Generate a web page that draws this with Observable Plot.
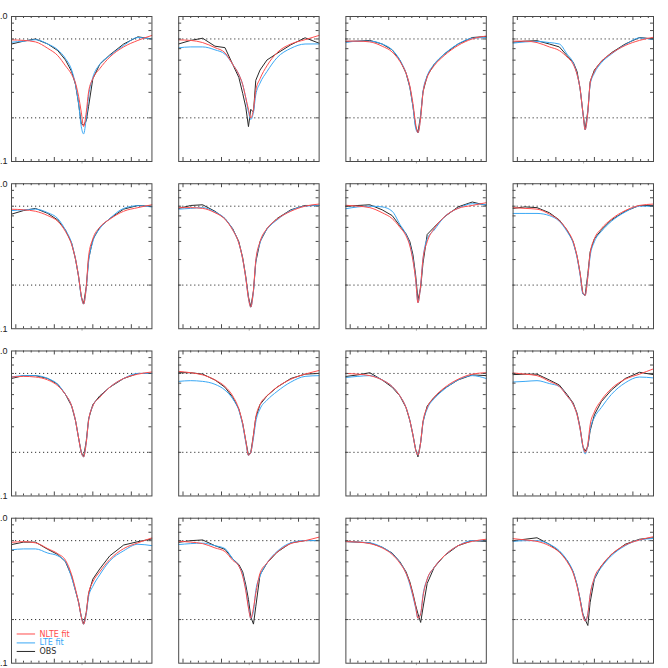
<!DOCTYPE html>
<html><head><meta charset="utf-8">
<script src="https://cdn.jsdelivr.net/npm/d3@7"></script>
<script src="https://cdn.jsdelivr.net/npm/@observablehq/plot@0.6"></script>
<style>html,body{margin:0;padding:0;background:#fff;overflow:hidden}</style>
</head><body><div id="chart"></div>
<script>
// wavelength grid (arbitrary units; major ticks at 0,1,2,3)
const xGrid = [-0.11, 0.2, 0.51, 0.83, 1.09, 1.29, 1.45, 1.55, 1.63, 1.7, 1.76, 1.83, 1.89, 2.0, 2.18, 2.44, 2.8, 3.17, 3.53];
const seriesNames = ["NLTE fit", "LTE fit", "OBS"];
const seriesColors = ["#ff4d4d", "#3aa8f5", "#2a2a2a"];
const yLabelTicks = [0.1, 1];
const dottedLevels = [0.7, 0.2];
const xMajorTicks = [0, 1, 2, 3];
const xMinorTicks = [0.2, 0.4, 0.6, 0.8, 1.2, 1.4, 1.6, 1.8, 2.2, 2.4, 2.6, 2.8, 3.2, 3.4];
const yMinorTicks = [0.2, 0.3, 0.4, 0.5, 0.6, 0.7, 0.8, 0.9];
const lineCenter = [1.72];

// panels in row-major order (4 x 4)
const obsFlux = [
 [.646,.676,.700,.646,.582,.501,.417,.339,.251,.182,.178,.191,.240,.372,.468,.543,.646,.724,.701],
 [.647,.684,.708,.624,.610,.468,.380,.295,.237,.174,.229,.219,.363,.427,.501,.556,.638,.713,.655],
 [.673,.676,.684,.646,.589,.501,.407,.324,.240,.174,.158,.209,.302,.389,.468,.550,.646,.716,.728],
 [.665,.676,.681,.646,.617,.537,.484,.417,.316,.219,.166,.224,.355,.427,.490,.562,.646,.716,.701],
 [.617,.653,.676,.624,.562,.479,.389,.302,.229,.166,.148,.195,.302,.412,.501,.575,.668,.708,.697],
 [.675,.708,.716,.646,.575,.490,.398,.309,.229,.166,.141,.182,.288,.398,.490,.575,.661,.708,.708],
 [.698,.708,.716,.661,.603,.513,.452,.398,.324,.234,.158,.191,.282,.447,.501,.589,.692,.748,.710],
 [.676,.692,.684,.631,.562,.479,.398,.316,.240,.174,.170,.240,.339,.417,.479,.562,.646,.708,.708],
 [.646,.676,.676,.646,.589,.501,.417,.331,.251,.200,.186,.240,.339,.427,.490,.562,.646,.700,.700],
 [.708,.708,.692,.631,.562,.479,.398,.316,.240,.191,.200,.263,.347,.427,.490,.562,.646,.692,.700],
 [.667,.684,.708,.631,.562,.490,.407,.331,.263,.209,.186,.234,.324,.417,.479,.550,.631,.684,.676],
 [.687,.692,.692,.631,.582,.501,.437,.372,.295,.219,.204,.219,.282,.363,.447,.537,.646,.713,.687],
 [.658,.684,.684,.610,.562,.501,.398,.316,.263,.209,.186,.224,.302,.380,.447,.550,.653,.689,.719],
 [.682,.700,.708,.646,.610,.525,.479,.427,.347,.275,.209,.186,.245,.407,.490,.582,.676,.701,.701],
 [.690,.684,.676,.631,.575,.501,.427,.363,.302,.251,.219,.191,.240,.355,.457,.550,.646,.700,.692],
 [.700,.716,.733,.661,.589,.513,.427,.347,.275,.219,.200,.182,.263,.380,.468,.562,.661,.716,.733]
];
const nlteFlux = [
 [.690,.684,.668,.603,.537,.457,.398,.347,.282,.219,.174,.219,.302,.372,.437,.525,.617,.684,.740],
 [.690,.684,.661,.610,.562,.468,.398,.339,.275,.229,.200,.229,.309,.372,.457,.562,.646,.692,.740],
 [.676,.676,.668,.624,.569,.490,.407,.331,.251,.182,.158,.200,.295,.380,.457,.537,.631,.700,.733],
 [.676,.676,.661,.617,.582,.525,.468,.398,.316,.219,.166,.219,.347,.417,.490,.556,.631,.684,.719],
 [.667,.661,.646,.603,.550,.468,.380,.302,.229,.170,.148,.195,.316,.417,.501,.569,.646,.684,.716],
 [.684,.684,.676,.631,.569,.479,.389,.302,.224,.162,.141,.186,.295,.398,.490,.569,.646,.700,.724],
 [.710,.700,.684,.631,.575,.501,.437,.372,.295,.219,.151,.200,.302,.398,.490,.589,.676,.708,.740],
 [.684,.676,.668,.617,.556,.479,.398,.316,.240,.178,.170,.229,.331,.417,.490,.569,.653,.708,.724],
 [.661,.668,.661,.631,.575,.501,.417,.331,.251,.200,.186,.234,.331,.417,.479,.562,.646,.692,.716],
 [.723,.708,.684,.631,.569,.490,.398,.316,.240,.191,.200,.263,.347,.427,.490,.562,.638,.692,.733],
 [.700,.692,.676,.631,.569,.490,.407,.331,.263,.209,.191,.234,.324,.407,.479,.556,.638,.692,.708],
 [.705,.692,.676,.617,.569,.490,.427,.363,.288,.224,.200,.229,.309,.380,.457,.550,.638,.692,.752],
 [.682,.689,.676,.617,.569,.513,.407,.324,.263,.209,.186,.224,.302,.363,.427,.519,.617,.676,.731],
 [.693,.684,.668,.624,.589,.513,.468,.398,.316,.240,.204,.240,.302,.417,.490,.582,.668,.700,.740],
 [.690,.684,.668,.624,.562,.490,.417,.355,.295,.245,.204,.219,.288,.380,.457,.550,.646,.692,.716],
 [.723,.708,.692,.646,.582,.501,.417,.339,.269,.214,.195,.219,.295,.389,.468,.562,.653,.708,.745]
];
const lteFlux = [
 [.665,.676,.692,.646,.589,.513,.427,.339,.251,.174,.155,.200,.282,.380,.468,.537,.631,.716,.700],
 [.608,.617,.617,.589,.550,.468,.398,.339,.275,.219,.195,.219,.288,.347,.417,.519,.603,.646,.647],
 [.661,.676,.676,.646,.589,.501,.407,.324,.240,.170,.158,.204,.302,.389,.468,.550,.646,.708,.716],
 [.655,.668,.673,.661,.646,.550,.479,.398,.316,.219,.166,.219,.339,.407,.479,.550,.638,.711,.692],
 [.653,.661,.668,.631,.575,.479,.389,.302,.229,.166,.148,.191,.288,.398,.490,.575,.676,.705,.692],
 [.668,.676,.684,.638,.575,.484,.389,.302,.224,.162,.141,.182,.288,.389,.484,.562,.653,.700,.708],
 [.673,.692,.700,.692,.646,.525,.447,.380,.302,.219,.151,.200,.302,.417,.479,.589,.676,.728,.716],
 [.624,.624,.624,.603,.550,.468,.389,.309,.234,.174,.170,.229,.316,.398,.468,.550,.638,.700,.700],
 [.661,.676,.676,.646,.589,.501,.417,.331,.251,.200,.186,.234,.331,.417,.479,.562,.646,.700,.700],
 [.617,.624,.617,.589,.537,.468,.389,.309,.234,.191,.200,.251,.324,.398,.457,.525,.610,.668,.676],
 [.656,.668,.676,.631,.569,.490,.407,.331,.263,.209,.191,.234,.316,.398,.468,.543,.631,.676,.646],
 [.611,.617,.624,.596,.569,.490,.427,.363,.288,.219,.195,.224,.288,.347,.407,.501,.603,.661,.652],
 [.605,.614,.614,.575,.550,.501,.389,.316,.263,.209,.186,.219,.288,.339,.407,.507,.596,.661,.647],
 [.658,.668,.673,.646,.617,.525,.468,.407,.324,.245,.204,.229,.316,.398,.490,.589,.676,.701,.701],
 [.690,.684,.676,.631,.569,.495,.417,.347,.288,.240,.204,.219,.295,.380,.457,.550,.646,.700,.700],
 [.692,.700,.700,.661,.596,.513,.427,.347,.275,.219,.195,.219,.295,.380,.457,.550,.646,.708,.724]
];

const W = 668, H = 668;
const mt = 16, mb = 5.3, ml = 11, mr = 15;
const padX = 0.16, padY = 0.133;
const bwX = (W - ml - mr) / (4 - padX) * (1 - padX);
const bwY = (H - mt - mb) / (4 - padY) * (1 - padY);

function build(arrs, name) {
  const out = [];
  arrs.forEach((vals, p) => {
    vals.forEach((v, i) => out.push({panel: p, fx: p % 4, fy: Math.floor(p / 4), x: xGrid[i], y: v, series: name}));
  });
  return out;
}
const obsData = build(obsFlux, "OBS");
const lteData = build(lteFlux, "LTE fit");
const nlteData = build(nlteFlux, "NLTE fit");

const axisColor = "#4a4a4a";
const tickMarks = [
  Plot.tickX(xMinorTicks, {x: d => d, insetTop: bwY - 2, stroke: axisColor}),
  Plot.tickX(xMajorTicks, {x: d => d, insetTop: bwY - 4, stroke: axisColor}),
  Plot.tickX(xMinorTicks, {x: d => d, insetBottom: bwY - 2, stroke: axisColor}),
  Plot.tickX(xMajorTicks, {x: d => d, insetBottom: bwY - 4, stroke: axisColor}),
  Plot.tickY(yMinorTicks, {y: d => d, insetRight: bwX - 3, stroke: axisColor}),
  Plot.tickY(yMinorTicks, {y: d => d, insetLeft: bwX - 3, stroke: axisColor}),
  Plot.tickX(lineCenter, {x: d => d, insetTop: bwY, insetBottom: -2.5, stroke: "#aaa"})
];

const legendItems = seriesNames.map((s, i) => ({s, i}));
const legendY = [0.159, 0.138, 0.1205];
const legendMarks = [];
legendItems.forEach(d => {
  legendMarks.push(Plot.ruleY([d], {fx: () => 0, fy: () => 3, y: () => legendY[d.i], x1: () => 0.036, x2: () => 0.513, stroke: seriesColors[d.i], strokeWidth: 1}));
  legendMarks.push(Plot.text([d], {fx: () => 0, fy: () => 3, y: () => legendY[d.i], x: () => 0.617, text: () => d.s, fill: seriesColors[d.i], textAnchor: "start", fontSize: 8, fontFamily: "'DejaVu Sans', sans-serif"}));
});

const chart = Plot.plot({
  width: W, height: H,
  marginTop: mt, marginBottom: mb, marginLeft: ml, marginRight: mr,
  style: {fontFamily: "'Liberation Sans', Arial, sans-serif", fontSize: "9px", background: "#fff"},
  fx: {domain: [0, 1, 2, 3], paddingInner: padX, paddingOuter: 0, round: false, axis: null},
  fy: {domain: [0, 1, 2, 3], paddingInner: padY, paddingOuter: 0, round: false, axis: null},
  x: {domain: [-0.112, 3.535], axis: null},
  y: {type: "log", domain: [0.1, 1], axis: null},
  marks: [
    Plot.ruleY(dottedLevels, {y: d => d, stroke: "#333", strokeDasharray: "1.2,2.8", strokeWidth: 1}),
    Plot.line(obsData, {x: "x", y: "y", z: "panel", fx: "fx", fy: "fy", stroke: seriesColors[2], strokeWidth: 1}),
    Plot.line(lteData, {x: "x", y: "y", z: "panel", fx: "fx", fy: "fy", stroke: seriesColors[1], strokeWidth: 1, curve: "monotone-x"}),
    Plot.line(nlteData, {x: "x", y: "y", z: "panel", fx: "fx", fy: "fy", stroke: seriesColors[0], strokeWidth: 1, curve: "monotone-x"}),
    ...tickMarks,
    Plot.frame({stroke: axisColor, strokeWidth: 1}),
    Plot.axisY(yLabelTicks, {anchor: "left", tickSize: 0, tickPadding: 4, tickFormat: d3.format(".1f"), label: null, fill: "#222"}),
    ...legendMarks
  ]
});
document.getElementById("chart").appendChild(chart);
</script>
</body></html>
